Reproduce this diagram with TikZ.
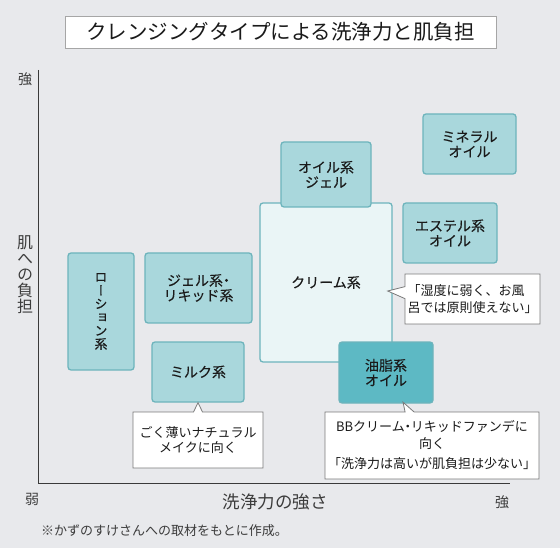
\documentclass[tikz,border=0pt]{standalone}
\usepackage{fontspec}
\setmainfont{Noto Sans CJK JP}
\newfontfamily\jpmid{Noto Sans CJK JP}[RawFeature={embolden=0.3}]
\newfontfamily\jpvert{Noto Sans CJK JP}[RawFeature={+vert;embolden=0.3}]
\newfontfamily\jpvertlight{Noto Sans CJK JP}[RawFeature={+vert}]
\usetikzlibrary{positioning, calc, shapes.callouts}

\definecolor{bgcol}{HTML}{E8E9EC}
\definecolor{boxfill}{HTML}{A9D7DC}
\definecolor{boxline}{HTML}{6DB4BC}
\definecolor{oilfill}{HTML}{5DB9C4}
\definecolor{creamfill}{HTML}{EAF5F6}
\definecolor{notegray}{HTML}{7A7A7A}
\definecolor{axisgray}{HTML}{3A3A3A}
\definecolor{txt}{HTML}{1A1A1A}

\newcommand{\tightdot}{\kern-3.5pt・\kern-3.5pt}

\begin{document}
\begin{tikzpicture}[
  x=1pt, y=-1pt,
  kind/.style={draw=boxline, fill=boxfill, rounded corners=3pt, line width=1.3pt,
               inner sep=0pt, align=center, text=txt, font=\jpmid\fontsize{14}{15}\selectfont},
  oilkind/.style={kind, fill=oilfill},
  creamkind/.style={kind, fill=creamfill},
  note/.style={rectangle callout, draw=notegray, fill=white, line width=0.8pt,
               callout pointer width=9pt, inner sep=0pt, text=txt,
               font=\fontsize{13}{17}\selectfont},
  title/.style={draw=gray!70, fill=white, line width=0.8pt, minimum width=431pt,
                minimum height=32pt, inner sep=0pt, text=txt, font=\fontsize{20.5}{21}\selectfont},
  lbl/.style={text=txt!85, inner sep=0pt, font=\fontsize{14}{14}\selectfont},
  axis/.style={draw=axisgray, line width=0.9pt},
]

% Canvas
\fill[bgcol] (0,0) rectangle (560,548);
\useasboundingbox (0,0) rectangle (560,548);

% Title
\node[title] (head) at (280.5,32) {クレンジングタイプによる洗浄力と肌負担};

% Axes
\coordinate (ytop) at (38.5,70);
\coordinate (orig) at (38.5,483);
\coordinate (xend) at (510,483);
\draw[axis] (ytop) -- (orig) -- (xend);

\node[lbl] (ystrong) at (25,79) {強};
\node[lbl, align=center, font=\jpvertlight\fontsize{16}{16}\selectfont] (yname) at (25,275)
  {肌\\へ\\の\\負\\担};
\node[lbl] (xweak) at (32,499) {弱};
\node[lbl] (xstrong) at (502,502) {強};
\node[lbl, font=\fontsize{17.5}{17}\selectfont] (xname) at (275,502) {洗浄力の強さ};
\node[lbl, font=\fontsize{13}{13}\selectfont, anchor=west] (source) at (41,531)
  {※かずのすけさんへの取材をもとに作成。};

% Cleansing types
\node[kind, minimum width=66pt, minimum height=117pt, font=\jpvert\fontsize{13}{13.4}\selectfont]
  (lotion) at (101,311.5) {ロ\\ー\\シ\\ョ\\ン\\系};
\node[kind, minimum width=107pt, minimum height=70pt] (gelliq) at (198.5,288) {ジェル系\tightdot\\リキッド系};
\node[kind, minimum width=92pt, minimum height=60pt] (milk) at (198,372) {ミルク系};
\node[creamkind, minimum width=132pt, minimum height=159pt] (cream) at (326,282.5) {クリーム系};
\node[kind, minimum width=90pt, minimum height=65pt] (oilgel) at (326,174.5) {オイル系\\ジェル};
\node[kind, minimum width=93pt, minimum height=60pt] (mineral) at (469.5,144) {ミネラル\\オイル};
\node[kind, minimum width=94pt, minimum height=60pt] (ester) at (450,233) {エステル系\\オイル};
\node[oilkind, minimum width=94pt, minimum height=61pt] (fatoil) at (386,372.5) {油脂系\\オイル};

% Comments
\coordinate (creamtip) at ($(cream.east)+(-5,8.5)$);
\coordinate (oiltip) at ($(fatoil.south)+(17,-1.5)$);
\node[note, align=left, minimum width=135pt, minimum height=50pt, callout pointer width=12pt,
      callout absolute pointer=(creamtip)] (creamnote) at (472.5,299)
  {「湿度に弱く、お風\\呂では原則使えない」};
\node[note, align=center, minimum width=130pt, minimum height=56pt,
      font=\fontsize{13}{15}\selectfont,
      callout absolute pointer=(milk.south)] (milknote) at (198,440)
  {ごく薄いナチュラル\\メイクに向く};
\node[note, align=center, minimum width=214pt, minimum height=67pt,
      callout absolute pointer=(oiltip)] (oilnote) at (432,445.5)
  {BBクリーム\tightdot リキッドファンデに\\向く\\[3pt]「洗浄力は高いが肌負担は少ない」};

\end{tikzpicture}
\end{document}
